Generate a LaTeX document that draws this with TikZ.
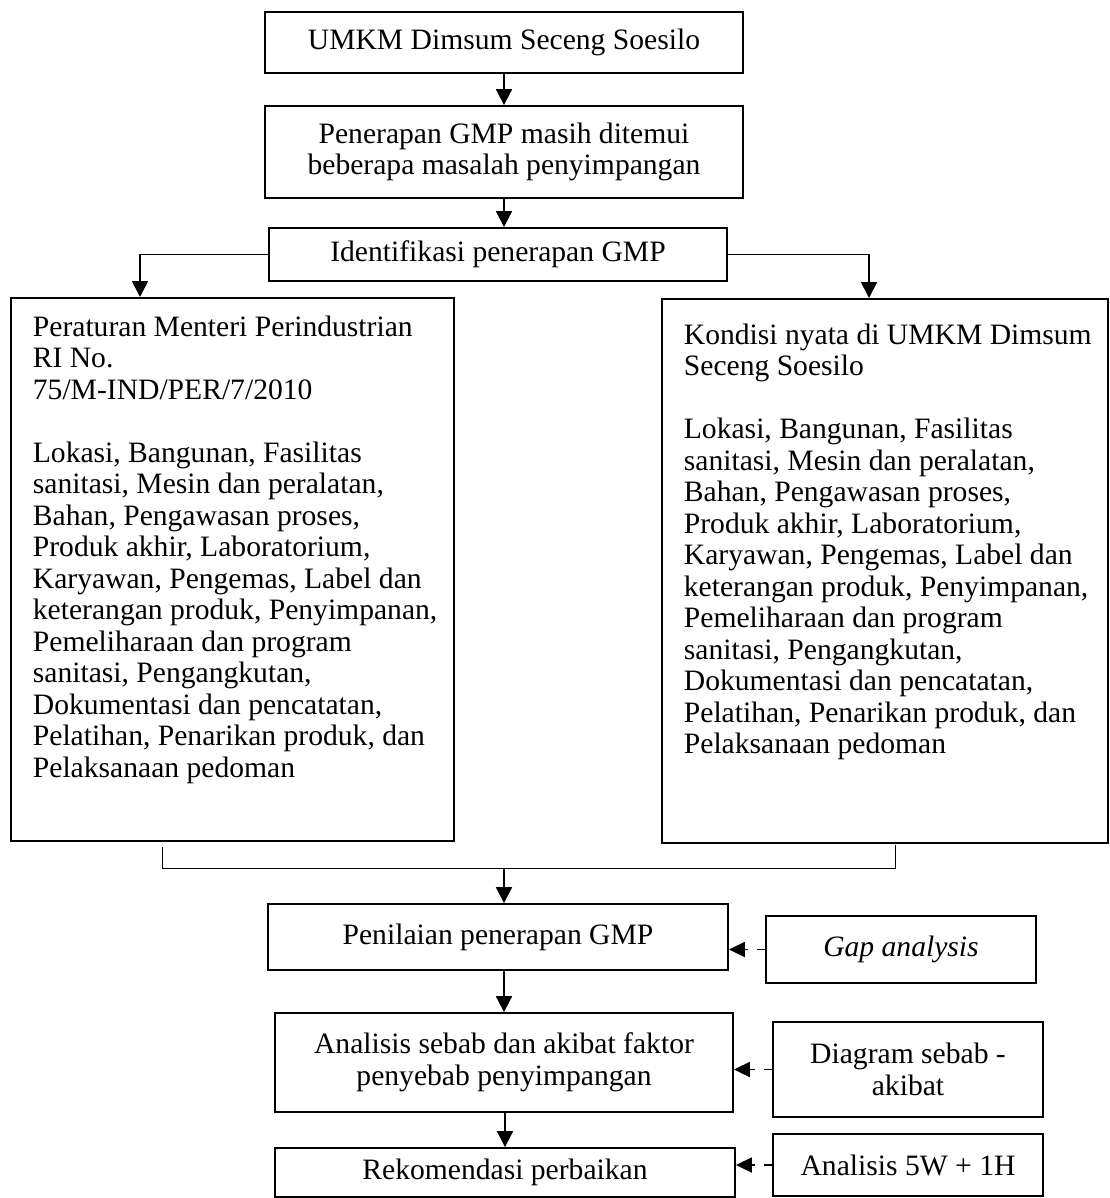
\documentclass[tikz,border=0pt]{standalone}
\usepackage{fontspec}
\setmainfont{Liberation Serif}
\usetikzlibrary{arrows.meta,positioning,calc}
\newcommand{\diagfont}{\fontsize{14.8}{15.75}\selectfont}

\begin{document}
\begin{tikzpicture}[x=0.5pt, y=-0.5pt,
  box/.style={rectangle, draw, line width=0.9pt, align=center, inner sep=0pt, font=\diagfont},
  bigbox/.style={rectangle, draw, line width=0.9pt, anchor=north west, inner sep=0pt, font=\diagfont},
  arr/.style={-{Triangle[length=8pt,width=8pt]}, line width=0.9pt},
  dep/.style={-{Triangle[length=8pt,width=7.5pt]}, line width=0.9pt, dash pattern=on 4pt off 4.5pt},
  brk/.style={line width=0.45pt}
]
\useasboundingbox (0,0) rectangle (1109,1198);

% Top chain
\node[box, minimum width=239pt, minimum height=30.5pt] (umkm) at (504,42.5) {UMKM Dimsum Seceng Soesilo};
\node[box, minimum width=239pt, minimum height=46pt] (masalah) at (504,152) {Penerapan GMP masih ditemui\\beberapa masalah penyimpangan};
\node[box, minimum width=229pt, minimum height=26.5pt] (idf) at (498,254.5) {Identifikasi penerapan GMP};

% Two columns
\node[bigbox] (perm) at (10,297) {\parbox[c][271.5pt][t]{221.5pt}{\vspace*{9pt}\raggedright\leftskip=11pt\rightskip=-10pt plus 1fil
  Peraturan Menteri Perindustrian\\RI No.\\75/M-IND/PER/7/2010\\[15.75pt]
  Lokasi, Bangunan, Fasilitas\\sanitasi, Mesin dan peralatan,\\Bahan, Pengawasan proses,\\
  Produk akhir, Laboratorium,\\Karyawan, Pengemas, Label dan\\keterangan produk, Penyimpanan,\\
  Pemeliharaan dan program\\sanitasi, Pengangkutan,\\Dokumentasi dan pencatatan,\\
  Pelatihan, Penarikan produk, dan\\Pelaksanaan pedoman}};
\node[bigbox] (nyata) at (661,298) {\parbox[c][272pt][t]{223pt}{\vspace*{12.5pt}\raggedright\leftskip=11pt\rightskip=-10pt plus 1fil
  Kondisi nyata di UMKM Dimsum\\Seceng Soesilo\\[15.75pt]
  Lokasi, Bangunan, Fasilitas\\sanitasi, Mesin dan peralatan,\\Bahan, Pengawasan proses,\\
  Produk akhir, Laboratorium,\\Karyawan, Pengemas, Label dan\\keterangan produk, Penyimpanan,\\
  Pemeliharaan dan program\\sanitasi, Pengangkutan,\\Dokumentasi dan pencatatan,\\
  Pelatihan, Penarikan produk, dan\\Pelaksanaan pedoman}};
\coordinate (pinL) at (140,297);
\coordinate (pinR) at (869,298);

% Bracket
\coordinate (bl) at (162,847);
\coordinate (br) at (895,845);
\coordinate (mid) at (504,868);

% Bottom chain
\node[box, minimum width=230pt, minimum height=33pt] (pen) at (498,937) {Penilaian penerapan GMP};
\node[box, minimum width=229pt, minimum height=49.5pt] (ana) at (504,1062.5) {Analisis sebab dan akibat faktor\\penyebab penyimpangan};
\node[box, minimum width=230pt, minimum height=24.5pt] (rek) at (505,1172.5) {Rekomendasi perbaikan};

% Methods
\node[box, minimum width=135pt, minimum height=33.5pt] (gap) at (901,949.5) {\itshape Gap analysis};
\node[box, minimum width=135pt, minimum height=47.5pt] (diag) at (908,1069.5) {Diagram sebab -\\akibat};
\node[box, minimum width=135pt, minimum height=31pt] (five) at (908,1165) {Analisis 5W + 1H};

% Edges
\draw[arr] (umkm) -- (masalah);
\draw[arr] (masalah.south) -- (masalah.south |- idf.north);
\draw[arr] (idf.west) -| (pinL);
\draw[arr] (idf.east) -| (pinR);
\draw[brk] (bl) |- (mid) -| (br);
\draw[arr] (mid) -- (mid |- pen.north);
\draw[arr] (pen.south -| ana.north) -- (ana.north);
\draw[arr] (ana.south -| rek.north) -- (rek.north);
\draw[dep] (gap.west) -- (gap.west -| pen.east);
\draw[dep] (diag.west) -- (diag.west -| ana.east);
\draw[dep] (five.west) -- (five.west -| rek.east);

\end{tikzpicture}
\end{document}
